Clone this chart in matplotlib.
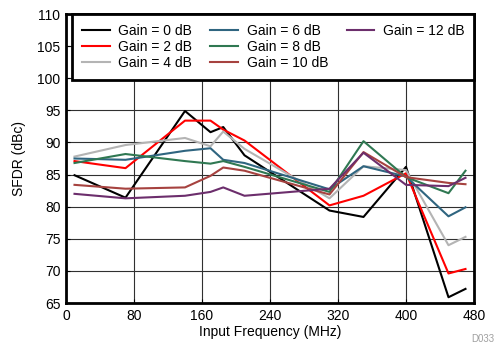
"""
    SFDR vs Input Frequency para distintas ganancias
"""
import numpy as np
import matplotlib
matplotlib.use('Agg')
import matplotlib.pyplot as plt
from matplotlib.lines import Line2D

plt.rcParams['font.family'] = ['Liberation Sans', 'DejaVu Sans']

# Datos
freq = [10, 70, 140, 170, 185, 210, 310, 350, 400, 450, 470]
gain_0 = [84.9, 81.4, 94.9, 91.6, 92.4, 88.0, 79.4, 78.4, 86.2, 65.9, 67.2]
gain_2 = [87.1, 86.0, 93.4, 93.4, 92.0, 90.3, 80.2, 81.7, 85.2, 69.6, 70.3]
gain_4 = [87.8, 89.6, 90.7, 89.4, 91.7, 89.0, 81.3, 86.3, 85.7, 74.0, 75.3]
gain_6 = [87.5, 87.3, 88.7, 89.1, 87.3, 86.8, 82.7, 86.3, 84.7, 78.5, 79.9]
gain_8 = [86.8, 88.2, 87.1, 86.7, 87.1, 86.2, 82.3, 90.2, 84.6, 82.1, 85.6]
gain_10 = [83.4, 82.8, 83.0, 84.8, 86.1, 85.6, 81.9, 88.5, 84.6, 83.7, 83.5]
gain_12 = [82.0, 81.3, 81.7, 82.3, 83.0, 81.7, 82.8, 88.4, 83.4, 83.2, 84.5]

labels = ['Gain = 0 dB', 'Gain = 2 dB', 'Gain = 4 dB', 'Gain = 6 dB',
          'Gain = 8 dB', 'Gain = 10 dB', 'Gain = 12 dB']
colores = ['#000000', '#FF0000', '#B4B4B4', '#2F6580',
           '#2F7852', '#A6423F', '#6C2E6C']
series = [gain_0, gain_2, gain_4, gain_6, gain_8, gain_10, gain_12]

fig = plt.figure(figsize=(4.97, 3.53), dpi=100)
ax = fig.add_axes([0.1328, 0.1416, 0.8209, 0.8187])

for y, lab, c in zip(series, labels, colores):
    ax.plot(freq, y, color=c, lw=1.5, label=lab)

ax.set_xlim(0, 480)
ax.set_ylim(65, 110)
ax.set_xticks(np.arange(0, 481, 80))
ax.set_yticks(np.arange(65, 111, 5))
ax.grid(True, color='#303030', lw=0.8)
ax.set_axisbelow(True)
ax.tick_params(direction='in', length=3, labelsize=10, pad=4)
for s in ax.spines.values():
    s.set_linewidth(2)

ax.set_xlabel('Input Frequency (MHz)', fontsize=10, labelpad=2)
ax.set_ylabel('SFDR (dBc)', fontsize=10, labelpad=8)

# la leyenda va por columnas: 3, 3 y 1 (con dos huecos vacios)
handles, labs = ax.get_legend_handles_labels()
vacio = Line2D([], [], color='none')
handles = handles + [vacio, vacio]
labs = labs + ['', '']

leg = ax.legend(handles, labs, loc='upper left',
                bbox_to_anchor=(0.015, 0.0, 0.985, 1.0),
                mode='expand', ncol=3, fontsize=10, borderaxespad=0,
                handlelength=2.0, handletextpad=0.6, labelspacing=0.15,
                columnspacing=0.5, borderpad=0.7, fancybox=False, framealpha=1)
leg.get_frame().set_edgecolor('black')
leg.get_frame().set_linewidth(2)

fig.text(0.995, 0.025, 'D033', color='#A0A0A0', fontsize=7, ha='right', va='bottom')

fig.savefig('out.png', dpi=100)
